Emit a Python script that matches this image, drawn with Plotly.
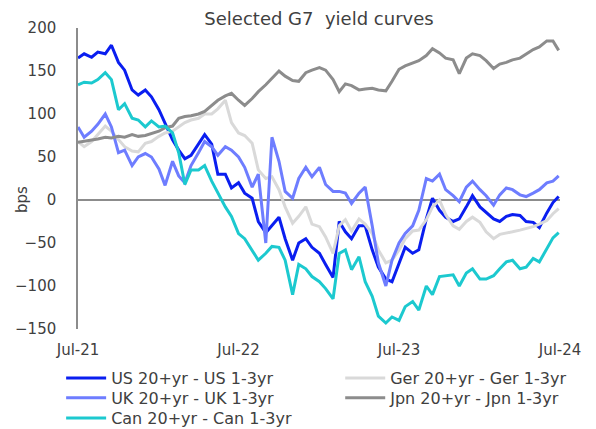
import pandas as pd
import plotly.graph_objects as go

# semi-monthly observation dates (1st & 15th) Jul-2021 .. Jun-2024, plus last obs
dates = list(pd.date_range("2021-07-01", periods=72, freq="SMS").strftime("%Y-%m-%d")) + ["2024-06-28"]

us = [165, 170, 166, 172, 170, 180, 160, 151, 128, 122, 128, 120, 105, 90, 70, 58, 48, 52, 65, 76,
      65, 30, 30, 14, 20, 8, 2, -25, -38, -30, -20, -45, -70, -50, -45, -55, -62, -75, -90, -25,
      -37, -45, -30, -30, -58, -78, -92, -95, -73, -55, -62, -58, -22, 2, -12, -20, -25, -22, -8, 5,
      -8, -14, -22, -25, -19, -17, -18, -25, -26, -32, -15, -3, 4]
ger = [68, 62, 68, 76, 86, 80, 70, 62, 57, 56, 66, 68, 74, 78, 80, 85, 90, 93, 95, 100,
       100, 106, 116, 90, 78, 75, 66, 35, 25, 27, 12, -8, -27, -19, -8, -28, -31, -43, -62, -30,
       -23, -36, -22, -28, -39, -58, -73, -70, -58, -45, -36, -35, -23, -8, 0, -17, -30, -34, -25, -20,
       -26, -37, -45, -40, -38, -37, -35, -33, -31, -28, -24, -16, -10]
uk = [85, 73, 80, 88, 100, 85, 55, 58, 40, 50, 54, 50, 36, 17, 45, 28, 20, 40, 55, 68,
      62, 52, 62, 58, 50, 38, 15, 30, -50, 73, 45, 10, 2, 25, 38, 27, 38, 18, 10, 10,
      8, -4, 8, 15, -30, -73, -100, -70, -50, -39, -30, -12, 25, 22, 30, 12, 5, -2, 15, 22,
      12, 5, -6, 6, 14, 12, 6, 4, 8, 12, 20, 22, 28]
jpn = [67, 68, 70, 71, 73, 72, 74, 73, 76, 74, 75, 77, 80, 84, 86, 95, 97, 98, 100, 103,
       110, 116, 121, 124, 116, 110, 118, 126, 134, 142, 150, 144, 139, 138, 148, 151, 154, 151, 140, 126,
       135, 133, 128, 129, 130, 128, 127, 138, 152, 156, 159, 162, 168, 176, 171, 165, 163, 147, 165, 170,
       168, 162, 153, 158, 160, 163, 165, 170, 175, 178, 185, 185, 174]
can = [134, 137, 136, 140, 148, 140, 105, 112, 95, 93, 85, 92, 85, 86, 78, 55, 18, 35, 35, 40,
       22, 8, -8, -19, -39, -45, -58, -70, -62, -54, -55, -70, -110, -75, -80, -89, -95, -103, -115, -62,
       -58, -81, -66, -95, -112, -135, -143, -136, -140, -124, -118, -128, -100, -110, -89, -88, -87, -100, -85, -80,
       -92, -92, -88, -80, -72, -70, -80, -78, -68, -72, -56, -44, -38]

# (name, values, colour, legend id, legend x, legend y)
series = [
    ("US 20+yr - US 1-3yr", us, "#0A1EF0", "legend", -0.035, -0.163),
    ("Ger 20+yr - Ger 1-3yr", ger, "#D9D9D9", "legend2", 0.544, -0.163),
    ("UK 20+yr - UK 1-3yr", uk, "#6E7DFF", "legend3", -0.035, -0.229),
    ("Jpn 20+yr - Jpn 1-3yr", jpn, "#8C8C8C", "legend4", 0.544, -0.229),
    ("Can 20+yr - Can 1-3yr", can, "#1CC9CF", "legend5", -0.035, -0.296),
]

tick_vals = ["2021-07-01", "2022-07-01", "2023-07-01", "2024-07-01"]
tick_text = ["Jul-21", "Jul-22", "Jul-23", "Jul-24"]

FONT = "DejaVu Sans, Arial, sans-serif"
TXT = "#404040"

fig = go.Figure()
legends = {}
for name, vals, col, lg, lx, ly in series:
    fig.add_trace(go.Scatter(x=dates, y=vals, name=name, mode="lines", legend=lg,
                             line=dict(color=col, width=3)))
    legends[lg] = dict(x=lx, y=ly, orientation="v", xanchor="left", yanchor="middle",
                       font=dict(size=16, color=TXT, family=FONT), itemwidth=40,
                       bgcolor="rgba(0,0,0,0)", borderwidth=0)

# page body has an 8px default margin: figure is drawn 8px in from top-left
fig.update_layout(
    width=588, height=421,
    margin=dict(l=70, r=36, t=20, b=100, autoexpand=False),
    paper_bgcolor="white", plot_bgcolor="white",
    font=dict(family=FONT, color=TXT, size=15),
    title=dict(text="Selected G7  yield curves", x=0.5, xref="paper", y=0.974, yanchor="middle",
               font=dict(size=18, color=TXT, family=FONT)),
    showlegend=True,
    annotations=[dict(text="bps", textangle=-90, x=-0.116, xref="paper", y=0, yref="y",
                      showarrow=False, font=dict(size=15, color=TXT, family=FONT),
                      xanchor="center", yanchor="middle")],
    **legends,
)
fig.update_xaxes(type="date", range=["2021-07-01", "2024-07-01"], tickvals=tick_vals, ticktext=tick_text,
                 showgrid=False, showline=False, zeroline=False, ticks="", automargin=False,
                 ticklabelstandoff=10, tickfont=dict(size=15, color=TXT, family=FONT))
fig.update_yaxes(range=[-150, 200], dtick=50, tick0=0, showgrid=False, automargin=False,
                 showline=True, linecolor="#8C8C8C", linewidth=1.5,
                 zeroline=True, zerolinecolor="#8C8C8C", zerolinewidth=1.5,
                 ticks="", ticklabelstandoff=17, tickfont=dict(size=15, color=TXT, family=FONT))

fig.write_html("out.html")
